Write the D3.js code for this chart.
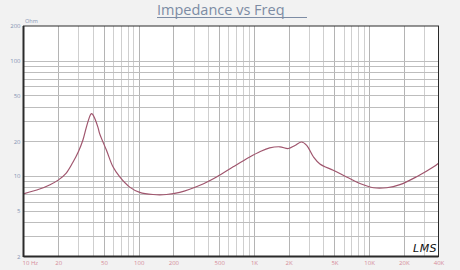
<!DOCTYPE html>
<html><head><meta charset="utf-8">
<script src="https://cdn.jsdelivr.net/npm/d3@7"></script>
<style>
html,body{margin:0;padding:0;background:#f2f2f2;}
svg{display:block;}
</style></head><body>
<svg id="c" width="460" height="270"></svg>
<script>
const freq = [10, 13.8, 17, 20, 23.5, 26.7, 30, 32.8, 35.1, 37.3, 38.3, 39.0, 39.8, 41.4, 44.3, 45.8, 52.5, 59.8, 68.5, 83.5, 102, 133, 174, 227, 340, 474, 660, 920, 1125, 1370, 1680, 1990, 2270, 2590, 2870, 3290, 3740, 4880, 6370, 8320, 10900, 14200, 18500, 26100, 36300, 40000];
const impedance = [7.0, 7.7, 8.4, 9.2, 10.6, 13.0, 16.3, 20.5, 26.4, 32.2, 34.2, 34.7, 34.2, 31.8, 26.4, 23.3, 16.7, 12.0, 9.8, 8.0, 7.2, 6.9, 6.9, 7.2, 8.3, 9.8, 12.0, 14.6, 16.2, 17.5, 17.9, 17.3, 18.4, 19.7, 18.4, 14.6, 12.7, 11.2, 9.8, 8.6, 7.9, 7.9, 8.4, 9.9, 12.0, 12.9];
const xTickValues = [10, 20, 50, 100, 200, 500, 1000, 2000, 5000, 10000, 20000, 40000];
const xTickLabels = ["10 Hz", "20", "50", "100", "200", "500", "1K", "2K", "5K", "10K", "20K", "40K"];
const yTickValues = [2, 5, 10, 20, 50, 100, 200];
const yTickLabels = ["2", "5", "10", "20", "50", "100", "200"];
const titleText = "Impedance vs Freq";
const unitText = "Ohm";

const svg = d3.select("#c");
const L = 23.5, R = 438.5, T = 26, B = 256.5;
const x = d3.scaleLog().domain([10, 40000]).range([L, R]);
const y = d3.scaleLog().domain([2, 200]).range([B, T]);

svg.append("rect").attr("x", L).attr("y", T).attr("width", R - L).attr("height", B - T).attr("fill", "#fff");

// vertical grid
const vg = [];
for (let d = 10; d <= 10000; d *= 10) for (let m = 1; m <= 9; m++) { const v = d * m; if (v > 10 && v < 40000) vg.push(v); }
svg.append("g").selectAll("line").data(vg).join("line")
  .attr("x1", d => Math.round(x(d)) + 0.5).attr("x2", d => Math.round(x(d)) + 0.5)
  .attr("y1", T).attr("y2", B)
  .attr("stroke", d => xTickValues.includes(d) ? "#b4b4b4" : "#cfcfcf").attr("stroke-width", 1);
// horizontal grid
const hg = [];
for (let d = 1; d <= 100; d *= 10) for (let m = 1; m <= 9; m++) { const v = d * m; if (v > 2 && v < 200) hg.push(v); }
svg.append("g").selectAll("line").data(hg).join("line")
  .attr("y1", d => Math.round(y(d)) + 0.5).attr("y2", d => Math.round(y(d)) + 0.5)
  .attr("x1", L).attr("x2", R)
  .attr("stroke", "#bdbdbd").attr("stroke-width", 1);

// curve
const line = d3.line().x((d, i) => x(freq[i])).y((d, i) => y(impedance[i])).curve(d3.curveCatmullRom.alpha(0.5));
svg.append("path").datum(freq).attr("d", line).attr("fill", "none").attr("stroke", "#a0566e").attr("stroke-width", 1.2);

// frame
svg.append("rect").attr("x", L).attr("y", T).attr("width", R - L).attr("height", B - T)
  .attr("fill", "none").attr("stroke", "#2a2a2a").attr("stroke-width", 1);
svg.append("line").attr("x1", L).attr("x2", L).attr("y1", T).attr("y2", B + 0.5).attr("stroke", "#2a2a2a").attr("stroke-width", 2);
svg.append("line").attr("x1", L).attr("x2", R).attr("y1", B).attr("y2", B).attr("stroke", "#2a2a2a").attr("stroke-width", 2);

// axis labels
const xa = d3.axisBottom(x).tickValues(xTickValues).tickFormat((d, i) => xTickLabels[i]).tickSize(0).tickPadding(4);
const gx = svg.append("g").attr("transform", `translate(0,${B})`).call(xa);
gx.select(".domain").remove();
gx.selectAll("text").attr("fill", "#d58a98").attr("font-family", "Open Sans").attr("font-size", 6);
gx.selectAll("text").filter((d, i) => i === 0).attr("text-anchor", "start").attr("dx", -1.5);

const ya = d3.axisLeft(y).tickValues(yTickValues).tickFormat((d, i) => yTickLabels[i]).tickSize(0).tickPadding(3);
const gy = svg.append("g").attr("transform", `translate(${L},0)`).call(ya);
gy.select(".domain").remove();
gy.selectAll("text").attr("fill", "#8494b2").attr("font-family", "Open Sans").attr("font-size", 6);

svg.append("text").attr("x", 25).attr("y", 23).text(unitText)
  .attr("fill", "#8494b2").attr("font-family", "Open Sans").attr("font-size", 5.5);

// title
svg.append("text").attr("x", 157).attr("y", 15).text(titleText)
  .attr("fill", "#7d8ca4").attr("font-family", "Open Sans").attr("font-size", 14.5);
svg.append("line").attr("x1", 157).attr("x2", 307).attr("y1", 17.5).attr("y2", 17.5)
  .attr("stroke", "#7d8ca4").attr("stroke-width", 1);

// logo
svg.append("text").attr("x", 413).attr("y", 252).text("LMS")
  .attr("fill", "#111").attr("font-family", "DejaVu Sans").attr("font-style", "italic").attr("font-weight", 300).attr("font-size", 11).attr("letter-spacing", 0.5);
</script>
</body></html>
